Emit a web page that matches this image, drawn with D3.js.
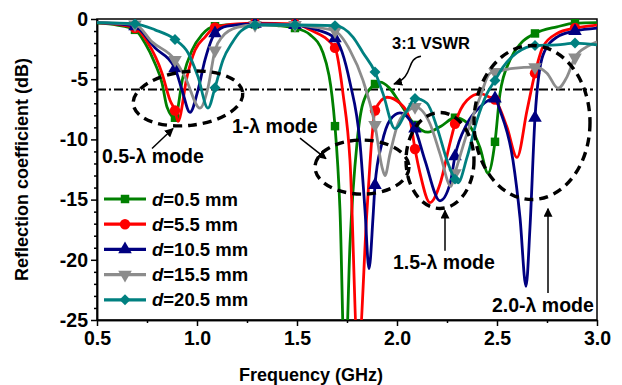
<!DOCTYPE html>
<html>
<head>
<meta charset="utf-8">
<script src="https://cdn.jsdelivr.net/npm/d3@7"></script>
<style>
  body { margin: 0; background: #fff; }
  text { font-family: "Liberation Sans", Arial, sans-serif; font-weight: bold; fill: #000; }
</style>
</head>
<body>
<div id="chart"></div>
<script>
// Data (frequency in GHz, reflection coefficient in dB)
const xTicks = [0.5, 1.0, 1.5, 2.0, 2.5, 3.0];
const yTicks = [0, -5, -10, -15, -20, -25];
const markerFreqs = [0.69, 0.89, 1.09, 1.29, 1.49, 1.69, 1.89, 2.09, 2.29, 2.49, 2.69, 2.89];

const seriesNames = ["0.5 mm", "5.5 mm", "10.5 mm", "15.5 mm", "20.5 mm"];
const seriesColors = ["#008000", "#ff0000", "#000080", "#8c8c8c", "#008080"];

const d05 = [[0.5,-0.35],[0.6,-0.5],[0.69,-0.9],[0.74,-2.0],[0.79,-3.7],[0.825,-5.3],[0.85,-7.3],[0.89,-8.2],
  [0.93,-4.8],[0.975,-2.6],[1.025,-1.3],[1.09,-0.6],[1.2,-0.45],[1.29,-0.45],[1.4,-0.55],[1.49,-0.75],
  [1.565,-1.3],[1.63,-2.8],[1.69,-8.9],[1.715,-15.9],[1.74,-30],[1.765,-18.7],[1.8,-10.3],[1.83,-7.0],
  [1.89,-5.4],[1.915,-5.25],[1.96,-5.7],[2.015,-7.0],[2.09,-8.8],[2.155,-9.4],[2.22,-8.9],[2.29,-8.2],
  [2.35,-8.6],[2.415,-10.7],[2.455,-12.8],[2.49,-10.2],[2.515,-6.2],[2.565,-3.4],[2.62,-2.0],[2.69,-1.2],
  [2.8,-0.65],[2.89,-0.35],[3.0,-0.3]];

const d55 = [[0.5,-0.3],[0.6,-0.45],[0.69,-0.75],[0.755,-2.0],[0.825,-4.5],[0.865,-6.75],[0.89,-7.6],[0.905,-8.5],
  [0.95,-4.8],[0.99,-2.6],[1.04,-1.5],[1.09,-0.7],[1.2,-0.4],[1.29,-0.35],[1.49,-0.4],[1.565,-0.9],
  [1.69,-2.4],[1.73,-6.2],[1.765,-11.75],[1.805,-28],[1.85,-15.9],[1.875,-9.8],[1.89,-7.6],[1.95,-6.5],
  [2.015,-7.0],[2.065,-8.4],[2.09,-10.8],[2.115,-12.8],[2.165,-15.25],[2.215,-13.7],[2.265,-10.3],[2.29,-8.7],
  [2.35,-6.75],[2.415,-6.2],[2.465,-6.5],[2.49,-6.7],[2.55,-9.0],[2.6,-11.5],[2.65,-7.6],[2.69,-4.5],
  [2.73,-2.3],[2.8,-1.2],[2.89,-0.75],[3.0,-0.5]];

const d105 = [[0.5,-0.3],[0.6,-0.4],[0.69,-0.6],[0.79,-2.4],[0.89,-4.1],[0.925,-5.9],[0.965,-7.75],[1.005,-5.9],
  [1.04,-3.4],[1.09,-1.2],[1.15,-0.6],[1.29,-0.4],[1.49,-0.5],[1.6,-0.9],[1.69,-1.6],[1.765,-5.3],
  [1.815,-10.3],[1.84,-15.9],[1.86,-20.75],[1.88,-16.5],[1.89,-13.8],[1.925,-10.3],[1.965,-8.4],[2.015,-7.8],
  [2.05,-8.1],[2.09,-9.1],[2.14,-11.75],[2.215,-15.1],[2.265,-13.7],[2.29,-11.4],[2.35,-8.7],[2.415,-7.3],
  [2.49,-6.6],[2.515,-7.6],[2.58,-11.75],[2.615,-16.5],[2.645,-22.2],[2.665,-17.3],[2.69,-8.2],[2.73,-3.0],
  [2.8,-1.5],[2.89,-1.0],[3.0,-0.75]];

const d155 = [[0.5,-0.3],[0.69,-0.45],[0.775,-1.9],[0.89,-3.4],[0.94,-4.8],[1.015,-7.4],[1.055,-5.7],[1.09,-2.6],
  [1.125,-1.5],[1.2,-0.7],[1.29,-0.5],[1.49,-0.5],[1.6,-0.7],[1.69,-1.0],[1.765,-2.6],[1.83,-5.1],
  [1.89,-8.8],[1.925,-12.3],[1.94,-13.0],[1.965,-11.2],[2.005,-8.7],[2.065,-7.5],[2.09,-7.3],[2.165,-8.7],
  [2.215,-11.2],[2.27,-13.9],[2.29,-12.8],[2.35,-9.5],[2.415,-6.5],[2.465,-4.5],[2.49,-4.4],[2.58,-4.1],
  [2.69,-4.0],[2.75,-4.5],[2.805,-5.75],[2.85,-4.8],[2.89,-3.2],[2.95,-2.3],[3.0,-1.9]];

const d205 = [[0.5,-0.3],[0.69,-0.4],[0.79,-0.9],[0.89,-1.7],[0.955,-2.8],[1.005,-4.8],[1.055,-7.4],[1.09,-5.7],
  [1.13,-3.4],[1.175,-2.0],[1.22,-1.0],[1.29,-0.5],[1.49,-0.5],[1.69,-0.55],[1.78,-1.5],[1.83,-2.8],
  [1.89,-4.4],[1.93,-6.2],[1.99,-9.1],[2.05,-7.6],[2.09,-6.6],[2.15,-7.0],[2.2,-9.0],[2.25,-11.75],
  [2.29,-13.3],[2.305,-13.6],[2.35,-11.5],[2.4,-8.4],[2.45,-6.2],[2.49,-5.1],[2.53,-4.0],[2.6,-2.8],
  [2.69,-2.2],[2.8,-2.15],[2.89,-2.0],[3.0,-2.15]];

const seriesData = [d05, d55, d105, d155, d205];
const vswr = -5.85;

// Define "SVG"
const svgWidth = 622;
const svgHeight = 385;
const margin = { top: 19, right: 25, bottom: 65, left: 97 };
const chartWidth = svgWidth - margin.left - margin.right;
const chartHeight = svgHeight - margin.top - margin.bottom;

const svg = d3.select("#chart")
  .append("svg")
  .attr("width", svgWidth)
  .attr("height", svgHeight);

const defs = svg.append("defs");
defs.append("clipPath").attr("id", "plotClip")
  .append("rect").attr("width", chartWidth).attr("height", chartHeight);
defs.append("marker")
  .attr("id", "arrow")
  .attr("viewBox", "0 0 10 10")
  .attr("refX", 9).attr("refY", 5)
  .attr("markerWidth", 9).attr("markerHeight", 9)
  .attr("markerUnits", "userSpaceOnUse")
  .attr("orient", "auto")
  .append("path").attr("d", "M0,0 L10,5 L0,10 Z").attr("fill", "#000");

const chartGroup = svg.append("g")
  .attr("transform", `translate(${margin.left}, ${margin.top})`);

const xScale = d3.scaleLinear().domain([0.5, 3.0]).range([0, chartWidth]);
const yScale = d3.scaleLinear().domain([-25, 0]).range([chartHeight, 0]);

// minor ticks
const xMinor = xTicks.slice(0, -1).map(v => v + 0.25);
const yMinor = d3.range(-24, 0).filter(v => v % 5 !== 0);

chartGroup.append("g")
  .attr("transform", `translate(0, ${chartHeight})`)
  .call(d3.axisBottom(xScale).tickValues(xTicks).tickFormat(d3.format(".1f")).tickSize(6).tickSizeOuter(0).tickPadding(5));
chartGroup.append("g")
  .attr("transform", `translate(0, ${chartHeight})`)
  .call(d3.axisBottom(xScale).tickValues(xMinor).tickFormat("").tickSize(3).tickSizeOuter(0));

chartGroup.append("g")
  .call(d3.axisLeft(yScale).tickValues(yTicks).tickFormat(d => String(d)).tickSize(6).tickSizeOuter(0).tickPadding(3));
chartGroup.append("g")
  .call(d3.axisLeft(yScale).tickValues(yMinor).tickFormat("").tickSize(3).tickSizeOuter(0));

chartGroup.selectAll(".tick text").style("font-size", "19.5px");
chartGroup.selectAll(".domain, .tick line").attr("stroke", "#000").attr("stroke-width", 1.5);

// frame
chartGroup.append("rect")
  .attr("width", chartWidth).attr("height", chartHeight)
  .attr("fill", "none").attr("stroke", "#000").attr("stroke-width", 1.5);

// 3:1 VSWR line
chartGroup.append("line")
  .attr("x1", 0).attr("x2", chartWidth - 4)
  .attr("y1", yScale(vswr)).attr("y2", yScale(vswr))
  .attr("stroke", "#000").attr("stroke-width", 2)
  .attr("stroke-dasharray", "9,3,2,3");

// curves
const symbols = [
  d3.symbol().type(d3.symbolSquare).size(72),
  d3.symbol().type(d3.symbolCircle).size(85),
  d3.symbol().type(d3.symbolTriangle).size(80),
  d3.symbol().type(d3.symbolTriangle).size(80),
  d3.symbol().type(d3.symbolSquare).size(60)
];
const symbolRotate = [0, 0, 0, 180, 45];

const line = d3.line()
  .x(d => xScale(d[0]))
  .y(d => yScale(d[1]))
  .curve(d3.curveMonotoneX);

const plot = chartGroup.append("g").attr("clip-path", "url(#plotClip)");

seriesData.forEach(function(data, i) {
  plot.append("path")
    .datum(data)
    .attr("d", line)
    .attr("fill", "none")
    .attr("stroke", seriesColors[i])
    .attr("stroke-width", 2.8);
  plot.selectAll(null)
    .data(data.filter(d => markerFreqs.includes(d[0])))
    .enter()
    .append("path")
    .attr("d", symbols[i])
    .attr("transform", d => `translate(${xScale(d[0])}, ${yScale(d[1])}) rotate(${symbolRotate[i]})`)
    .attr("fill", seriesColors[i]);
});

// mode annotations (centres in data units, radii in px)
const ellipses = [
  { f: 0.955, db: -6.6, rx: 55, ry: 27, rot: -6 },
  { f: 1.825, db: -12.3, rx: 47, ry: 27, rot: 0 },
  { f: 2.215, db: -11.75, rx: 34, ry: 48, rot: 0 },
  { f: 2.675, db: -8.6, rx: 58, ry: 77, rot: 0 }
];
chartGroup.selectAll(".mode")
  .data(ellipses)
  .enter()
  .append("ellipse")
  .attr("class", "mode")
  .attr("transform", d => `translate(${xScale(d.f)}, ${yScale(d.db)}) rotate(${d.rot})`)
  .attr("rx", d => d.rx).attr("ry", d => d.ry)
  .attr("fill", "none").attr("stroke", "#000")
  .attr("stroke-width", 3.4).attr("stroke-dasharray", "9,6");

const arrows = [
  [0.775, -10.75, 0.88, -9.1],
  [1.515, -9.9, 1.645, -11.6],
  [2.24, -19.25, 2.24, -15.9],
  [2.755, -22.75, 2.755, -15.75]
];
chartGroup.selectAll(".arr")
  .data(arrows)
  .enter()
  .append("line")
  .attr("class", "arr")
  .attr("x1", d => xScale(d[0])).attr("y1", d => yScale(d[1]))
  .attr("x2", d => xScale(d[2])).attr("y2", d => yScale(d[3]))
  .attr("stroke", "#000").attr("stroke-width", 1.5)
  .attr("marker-end", "url(#arrow)");

// curly arrow from "3:1 VSWR"
chartGroup.append("path")
  .attr("d", `M${xScale(2.12)},${yScale(-3.1)} C${xScale(2.04)},${yScale(-3.3)} ${xScale(2.09)},${yScale(-4.8)} ${xScale(1.985)},${yScale(-5.4)}`)
  .attr("fill", "none").attr("stroke", "#000").attr("stroke-width", 1.5)
  .attr("marker-end", "url(#arrow)");

const labels = [
  { text: "3:1 VSWR", f: 1.975, db: -2.5, size: 16.5 },
  { text: "0.5-λ mode", f: 0.525, db: -12.0, size: 19.5 },
  { text: "1-λ mode", f: 1.175, db: -9.5, size: 19.5 },
  { text: "1.5-λ mode", f: 1.98, db: -20.8, size: 19.5 },
  { text: "2.0-λ mode", f: 2.475, db: -24.3, size: 19.5 }
];
chartGroup.selectAll(".lbl")
  .data(labels)
  .enter()
  .append("text")
  .attr("class", "lbl")
  .attr("x", d => xScale(d.f)).attr("y", d => yScale(d.db))
  .style("font-size", d => d.size + "px")
  .text(d => d.text);

// legend
const legend = chartGroup.append("g").attr("transform", "translate(7, 180)");
seriesNames.forEach(function(name, i) {
  const row = legend.append("g").attr("transform", `translate(0, ${i * 25.2})`);
  row.append("line").attr("x1", 0).attr("x2", 42)
    .attr("stroke", seriesColors[i]).attr("stroke-width", 3.2);
  row.append("path").attr("d", symbols[i])
    .attr("transform", `translate(21, 0) rotate(${symbolRotate[i]})`)
    .attr("fill", seriesColors[i]);
  const t = row.append("text").attr("x", 48).attr("y", 6.5).style("font-size", "18.5px");
  t.append("tspan").style("font-style", "italic").text("d");
  t.append("tspan").text("=" + name);
});

// axis titles
chartGroup.append("text")
  .attr("transform", `translate(${-69}, ${chartHeight / 2}) rotate(-90)`)
  .attr("text-anchor", "middle")
  .style("font-size", "18px")
  .text("Reflection coefficient (dB)");

chartGroup.append("text")
  .attr("x", chartWidth / 2 - 36).attr("y", chartHeight + 61)
  .attr("text-anchor", "middle")
  .style("font-size", "18px")
  .text("Frequency (GHz)");
</script>
</body>
</html>
